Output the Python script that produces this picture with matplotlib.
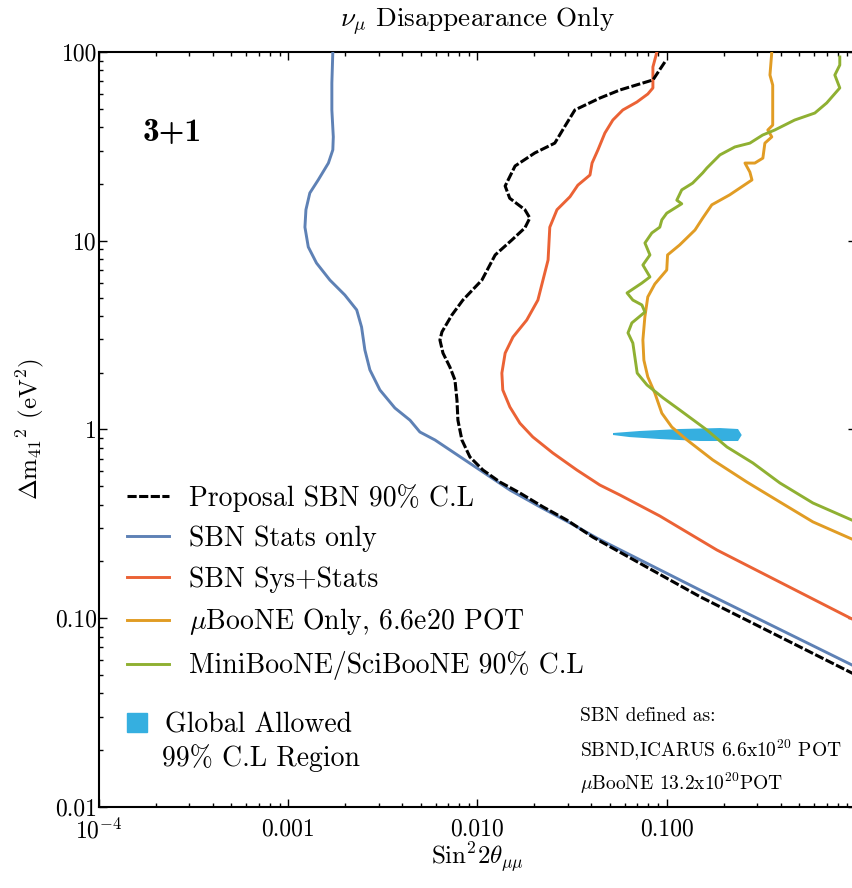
import matplotlib
matplotlib.use('Agg')
import matplotlib.pyplot as plt
from matplotlib.ticker import FixedLocator, FixedFormatter, LogLocator, NullFormatter
from matplotlib.lines import Line2D
from matplotlib.patches import Patch

plt.rcParams['font.family'] = 'cmr10'
plt.rcParams['mathtext.fontset'] = 'cm'
plt.rcParams['axes.unicode_minus'] = False

# curves (sin^2 2theta, dm^2 in eV^2)
blue_x = [0.00172, 0.0017, 0.0017, 0.00173, 0.00172, 0.00163, 0.00144, 0.0013, 0.00124, 0.001225,
          0.001276, 0.00141, 0.00166, 0.00199, 0.0023, 0.00244, 0.00254, 0.0027, 0.00305, 0.00366,
          0.0044, 0.00496, 0.00596, 0.00715, 0.0103, 0.01483, 0.0214, 0.0308, 0.0427, 0.150, 1.0]
blue_y = [100, 68.5, 49.3, 35.5, 30.3, 25.8, 21.0, 17.9, 14.6, 11.8,
          9.27, 7.62, 6.19, 5.16, 4.30, 3.49, 2.64, 2.07, 1.62, 1.30,
          1.12, 0.97, 0.88, 0.779, 0.61, 0.478, 0.389, 0.32, 0.266, 0.141, 0.0552]

black_x = [0.0977, 0.0845, 0.0565, 0.0443, 0.0327, 0.029, 0.0256, 0.0201, 0.0158, 0.014,
           0.0148, 0.0178, 0.0189, 0.0178, 0.0152, 0.0124, 0.01055, 0.00837, 0.00732, 0.00649,
           0.00633, 0.00657, 0.00715, 0.0076, 0.00779, 0.00788, 0.00827, 0.00912, 0.01068, 0.01313,
           0.01675, 0.0222, 0.0297, 0.0407, 0.150, 1.0]
black_y = [88.5, 71.1, 62.9, 57.0, 49.3, 40.5, 32.9, 29.2, 24.9, 19.5,
           16.8, 14.6, 13.2, 11.7, 10.1, 8.41, 6.19, 4.85, 4.04, 3.29,
           2.98, 2.54, 2.14, 1.83, 1.43, 1.12, 0.88, 0.715, 0.61, 0.527,
           0.461, 0.389, 0.331, 0.269, 0.130, 0.05]

red_x = [0.0887, 0.0845, 0.0845, 0.0845, 0.0794, 0.0695, 0.0586, 0.0519, 0.0471, 0.0433,
         0.0403, 0.0393, 0.0339, 0.0308, 0.0263, 0.0241, 0.0236, 0.02085, 0.0182, 0.0154,
         0.014, 0.01345, 0.0136, 0.01483, 0.01675, 0.0196, 0.025, 0.0335, 0.0443, 0.0565,
         0.092, 0.184, 1.0]
red_y = [100, 83.3, 73.7, 64.5, 59.9, 54.3, 49.3, 43.6, 37.2, 30.3,
         25.8, 22.3, 19.7, 17.1, 14.6, 11.8, 7.91, 4.85, 3.80, 3.09,
         2.54, 1.99, 1.62, 1.316, 1.08, 0.913, 0.751, 0.61, 0.508, 0.45,
         0.348, 0.230, 0.0967]

orange_x = [0.359, 0.351, 0.363, 0.363, 0.342, 0.359, 0.330, 0.322, 0.292, 0.259,
            0.275, 0.282, 0.215, 0.173, 0.155, 0.141, 0.117, 0.101, 0.100, 0.0865,
            0.0794, 0.0766, 0.0748, 0.0757, 0.0794, 0.0865, 0.0942, 0.1064, 0.128, 0.175,
            0.265, 0.396, 0.592, 1.0]
orange_y = [100, 75.5, 66.8, 41.0, 38.6, 35.5, 32.9, 27.4, 25.8, 25.8,
            23.1, 21.0, 17.5, 15.5, 13.2, 11.4, 9.5, 8.41, 7.0, 5.9,
            5.04, 3.94, 2.98, 2.33, 1.90, 1.56, 1.22, 1.03, 0.88, 0.69,
            0.527, 0.413, 0.324, 0.257]

green_x = [0.821, 0.821, 0.773, 0.821, 0.70, 0.606, 0.474, 0.372, 0.321, 0.275,
           0.229, 0.191, 0.163, 0.155, 0.137, 0.120, 0.113, 0.120, 0.1, 0.0942,
           0.0919, 0.0834, 0.0767, 0.0815, 0.0748, 0.0815, 0.0739, 0.0617, 0.0662, 0.0739,
           0.0767, 0.0654, 0.0624, 0.0662, 0.0698, 0.0787, 0.0957, 0.117, 0.163, 0.208,
           0.285, 0.396, 0.592, 1.0]
green_y = [94.1, 85.3, 75.5, 64.5, 53.7, 47.5, 43.6, 38.6, 36.3, 32.9,
           31.4, 28.5, 24.3, 22.9, 20.2, 18.6, 16.4, 15.7, 14.0, 12.9,
           11.8, 11.0, 9.73, 8.41, 7.44, 6.43, 5.97, 5.29, 4.85, 4.57,
           4.19, 3.67, 3.25, 2.87, 1.99, 1.72, 1.47, 1.27, 0.994, 0.808,
           0.665, 0.521, 0.408, 0.324]

# global allowed region outline
blob_x = [0.052, 0.0721, 0.117, 0.191, 0.238, 0.249, 0.238, 0.150, 0.092, 0.0635, 0.052]
blob_y = [0.958, 0.982, 1.006, 1.018, 1.006, 0.935, 0.869, 0.869, 0.89, 0.912, 0.935]

labels = ['Proposal SBN 90% C.L', 'SBN Stats only', 'SBN Sys+Stats',
          r'$\mu$BooNE Only, 6.6e20 POT', 'MiniBooNE/SciBooNE 90% C.L']
x_ticks = [1e-4, 1e-3, 1e-2, 1e-1, 1]
x_ticklabels = [r'$10^{-4}$', '0.001', '0.010', '0.100', '1']
y_ticks = [0.01, 0.1, 1, 10, 100]
y_ticklabels = ['0.01', '0.10', '1', '10', '100']

c_blue = '#5E81B5'
c_red = '#EB6235'
c_orange = '#E19C24'
c_green = '#8FB032'
c_cyan = '#35AFE0'

fig = plt.figure(figsize=(8.53, 8.88), dpi=100)
ax = fig.add_axes([99 / 853, 81 / 888, 757 / 853, 755 / 888])
ax.set_xscale('log')
ax.set_yscale('log')

ax.fill(blob_x, blob_y, color=c_cyan, lw=0, zorder=2)
ax.plot(orange_x, orange_y, color=c_orange, lw=2.1, zorder=3)
ax.plot(green_x, green_y, color=c_green, lw=2.1, zorder=3)
ax.plot(red_x, red_y, color=c_red, lw=2.1, zorder=3)
ax.plot(blue_x, blue_y, color=c_blue, lw=2.1, zorder=3)
ax.plot(black_x, black_y, color='black', lw=2.2, ls=(0, (3, 0.8)), zorder=4)

ax.set_xlim(1e-4, 1)
ax.set_ylim(0.01, 100)

ax.xaxis.set_major_locator(FixedLocator(x_ticks))
ax.xaxis.set_major_formatter(FixedFormatter(x_ticklabels))
ax.yaxis.set_major_locator(FixedLocator(y_ticks))
ax.yaxis.set_major_formatter(FixedFormatter(y_ticklabels))
ax.xaxis.set_minor_locator(LogLocator(base=10, subs=range(2, 10), numticks=20))
ax.yaxis.set_minor_locator(LogLocator(base=10, subs=range(2, 10), numticks=20))
ax.xaxis.set_minor_formatter(NullFormatter())
ax.yaxis.set_minor_formatter(NullFormatter())
ax.tick_params(which='both', direction='in', top=True, right=True, width=1)
ax.tick_params(which='major', length=6)
ax.tick_params(which='minor', length=3)
ax.tick_params(axis='x', which='major', labelsize=17, pad=8)
ax.tick_params(axis='y', which='major', labelsize=17, pad=1.5)
for s in ax.spines.values():
    s.set_linewidth(1.5)

ax.set_title(r'$\nu_\mu$ Disappearance Only', fontsize=19.5, y=1.041, pad=0, va='center')
ax.set_xlabel(r'Sin$^2 2\theta_{\mu\mu}$', fontsize=18)
ax.xaxis.set_label_coords(0.5, -0.0675)
ax.xaxis.label.set_va('center')
ax.set_ylabel(r'$\Delta$m$_{41}{}^2$ (eV$^2$)', fontsize=18)
ax.yaxis.set_label_coords(-0.091, 0.5)
ax.yaxis.label.set_va('center')

ax.text(0.058, 0.894, '3+1', transform=ax.transAxes, fontsize=24, family='cmb10', va='center')

handles = [Line2D([], [], color='black', lw=2.2, ls=(0, (3, 0.8))),
           Line2D([], [], color=c_blue, lw=2.1),
           Line2D([], [], color=c_red, lw=2.1),
           Line2D([], [], color=c_orange, lw=2.1),
           Line2D([], [], color=c_green, lw=2.1)]
leg1 = ax.legend(handles, labels, loc='upper left', bbox_to_anchor=(0.037, 0.428), frameon=False,
                 fontsize=20, handlelength=1.5, handletextpad=0.72, labelspacing=0.5,
                 borderpad=0, borderaxespad=0)
ax.add_artist(leg1)
ax.legend([Patch(color=c_cyan)], ['Global Allowed'], loc='upper left', bbox_to_anchor=(0.037, 0.126),
          frameon=False, fontsize=20, handlelength=0.72, handleheight=0.72, handletextpad=0.65,
          borderpad=0, borderaxespad=0)
ax.text(0.083, 0.065, '99% C.L Region', transform=ax.transAxes, fontsize=20, va='center')

ax.text(0.635, 0.1205, 'SBN defined as:', transform=ax.transAxes, fontsize=14, va='center')
ax.text(0.635, 0.0755, r'SBND,ICARUS 6.6x10$^{20}$ POT', transform=ax.transAxes, fontsize=14, va='center')
ax.text(0.635, 0.0318, r'$\mu$BooNE 13.2x10$^{20}$POT', transform=ax.transAxes, fontsize=14, va='center')

fig.savefig('out.png', dpi=100)
